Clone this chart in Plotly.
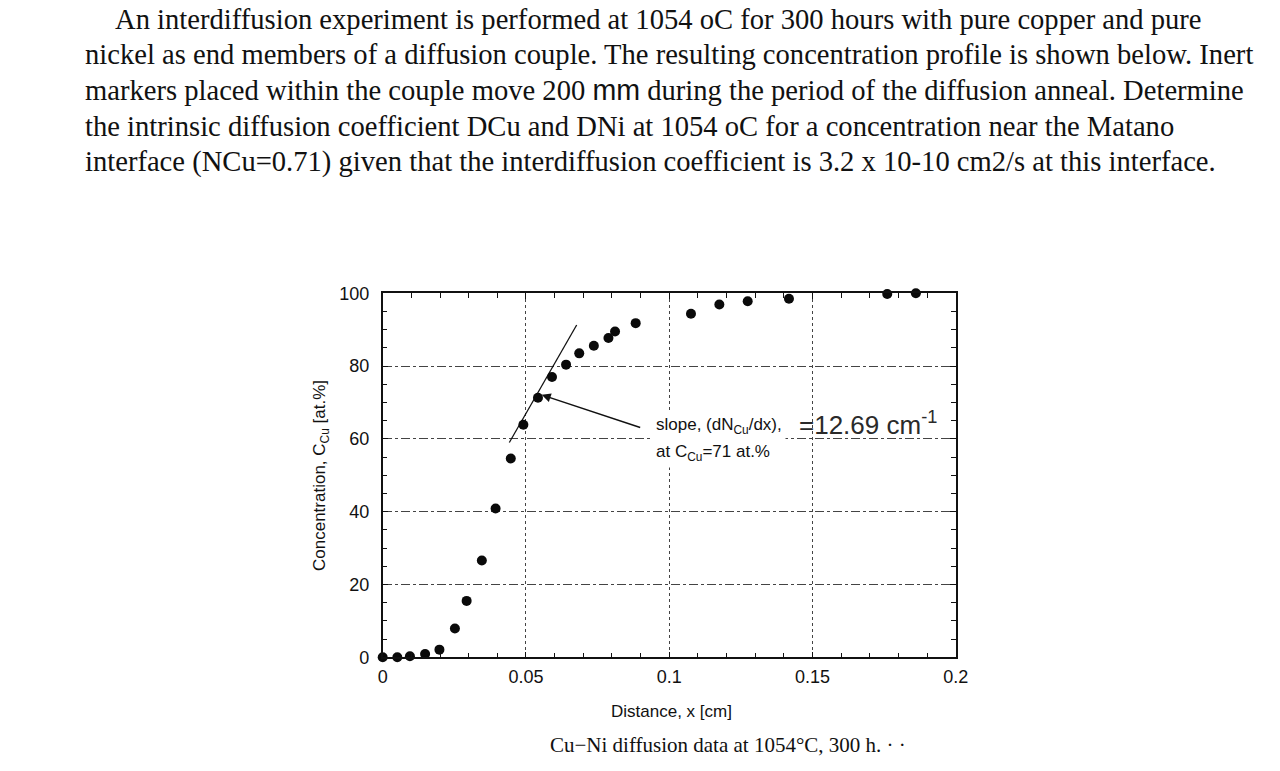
import plotly.graph_objects as go

# ---------------- data ----------------
distance_cm = [0.0, 0.0051, 0.0095, 0.0148, 0.0198, 0.0252, 0.0293, 0.0346, 0.0394,
               0.0447, 0.0491, 0.0542, 0.0591, 0.0640, 0.0686, 0.0737, 0.0788, 0.0811,
               0.0883, 0.1076, 0.1175, 0.1274, 0.1418, 0.1761, 0.1861]
conc_cu = [0.0, 0.0, 0.3, 0.9, 2.1, 7.9, 15.5, 26.6, 40.9,
           54.6, 63.9, 71.3, 77.0, 80.4, 83.5, 85.6, 87.7, 89.5,
           91.8, 94.4, 96.9, 97.8, 98.5, 99.8, 100.0]

tangent_x = [0.0442, 0.0677]
tangent_y = [59.0, 91.3]

arrow_tip = (0.0555, 72.1)
arrow_tail = (0.0904, 63.0)

x_ticks = [0, 0.05, 0.1, 0.15, 0.2]
x_ticklabels = ["0", "0.05", "0.1", "0.15", "0.2"]
y_ticks = [0, 20, 40, 60, 80, 100]
y_ticklabels = ["0", "20", "40", "60", "80", "100"]

question_lines = [
    "An interdiffusion experiment is performed at 1054 oC for 300 hours with pure copper and pure",
    "nickel as end members of a diffusion couple. The resulting concentration profile is shown below. Inert",
    "markers placed within the couple move 200 <span style=\"font-family:'Liberation Sans'\">mm</span> during the period of the diffusion anneal. Determine",
    "the intrinsic diffusion coefficient DCu and DNi at 1054 oC for a concentration near the Matano",
    "interface (NCu=0.71) given that the interdiffusion coefficient is 3.2 x 10-10 cm2/s at this interface.",
]
question_x = [114, 84, 84, 84, 84]
question_y = [19, 54, 90, 126, 162]

# page body margin compensation (default 8px body margin)
OFF = 8
W, H = 1280 - 2 * OFF, 771 - 2 * OFF


def fx(px):
    return (px - OFF) / W


def fy(py):
    return 1 - (py - OFF) / H


SANS = "Liberation Sans, Arial, sans-serif"
SERIF = "Liberation Serif, Times New Roman, serif"

fig = go.Figure()

fig.add_trace(go.Scatter(
    x=tangent_x, y=tangent_y, mode="lines",
    line=dict(color="#111111", width=1.3), showlegend=False, hoverinfo="skip",
))
fig.add_trace(go.Scatter(
    x=distance_cm, y=conc_cu, mode="markers",
    marker=dict(color="#0a0a0a", size=10), cliponaxis=False, showlegend=False,
))

px0, px1 = 382.7, 955.7
py_top, py_bot = 293.3, 657.3

axis_common = dict(
    ticks="inside", ticklen=6, tickwidth=1.2, tickcolor="#111111",
    showline=True, linecolor="#111111", linewidth=1.5, mirror="allticks",
    showgrid=True, gridcolor="#444444", gridwidth=1,
    zeroline=False, automargin=False,
    tickfont=dict(family=SANS, size=18, color="#111111"),
)

fig.update_layout(
    width=W, height=H, autosize=False,
    margin=dict(l=0, r=0, t=0, b=0, pad=0),
    paper_bgcolor="white", plot_bgcolor="white",
    font=dict(family=SANS, color="#111111", size=17),
    xaxis=dict(
        domain=[fx(px0), fx(px1)], range=[0, 0.2],
        tickvals=x_ticks, ticktext=x_ticklabels, griddash="dot",
        ticklabelstandoff=2,
        minor=dict(dtick=0.01, tick0=0, ticks="inside", ticklen=5, tickwidth=1.1,
                   tickcolor="#111111", showgrid=False),
        **axis_common,
    ),
    yaxis=dict(
        domain=[fy(py_bot), fy(py_top)], range=[0, 100],
        tickvals=y_ticks, ticktext=y_ticklabels, griddash="dashdot",
        ticklabelstandoff=8,
        minor=dict(dtick=5, tick0=0, ticks="inside", ticklen=5, tickwidth=1.1,
                   tickcolor="#111111", showgrid=False),
        **axis_common,
    ),
)

annotations = []
for txt, xx, yy in zip(question_lines, question_x, question_y):
    annotations.append(dict(
        text=txt, xref="paper", yref="paper", x=fx(xx), y=fy(yy),
        xanchor="left", yanchor="middle", showarrow=False, borderpad=0,
        font=dict(family=SERIF, size=28.6, color="#111111"),
    ))

annotations.append(dict(
    text="Distance, x [cm]", xref="paper", yref="paper", x=fx(671), y=fy(711),
    xanchor="center", yanchor="middle", showarrow=False,
    font=dict(family=SANS, size=17, color="#111111"),
))
annotations.append(dict(
    text="Concentration, C<sub>Cu</sub> [at.%]", xref="paper", yref="paper",
    x=fx(321), y=fy(476), xanchor="center", yanchor="middle", textangle=-90,
    showarrow=False, font=dict(family=SANS, size=17, color="#111111"),
))
annotations.append(dict(
    text="Cu\u2212Ni diffusion data at 1054\u00b0C, 300 h. \u00b7 \u00b7", xref="paper", yref="paper",
    x=fx(548), y=fy(745), xanchor="left", yanchor="middle", showarrow=False,
    font=dict(family=SERIF, size=21, color="#111111"),
))

annotations.append(dict(
    text="slope, (dN<sub>Cu</sub>/dx),", xref="paper", yref="paper",
    x=fx(652), y=fy(426), xanchor="left", yanchor="middle", align="left",
    showarrow=False, bgcolor="white", borderpad=3,
    font=dict(family=SANS, size=17, color="#111111"),
))
annotations.append(dict(
    text="at C<sub>Cu</sub>=71 at.%", xref="paper", yref="paper",
    x=fx(652), y=fy(453), xanchor="left", yanchor="middle", align="left",
    showarrow=False, bgcolor="white", borderpad=3,
    font=dict(family=SANS, size=17, color="#111111"),
))
annotations.append(dict(
    text="=12.69 cm<sup>-1</sup>", xref="paper", yref="paper",
    x=fx(797), y=fy(423), xanchor="left", yanchor="middle", showarrow=False,
    font=dict(family=SANS, size=26, color="#2a2a2a"),
))
annotations.append(dict(
    text="", x=arrow_tip[0], y=arrow_tip[1], ax=arrow_tail[0], ay=arrow_tail[1],
    xref="x", yref="y", axref="x", ayref="y", showarrow=True,
    arrowhead=2, arrowsize=1.2, arrowwidth=1.5, arrowcolor="#111111",
))

fig.update_layout(annotations=annotations)

fig.write_html("out.html")
